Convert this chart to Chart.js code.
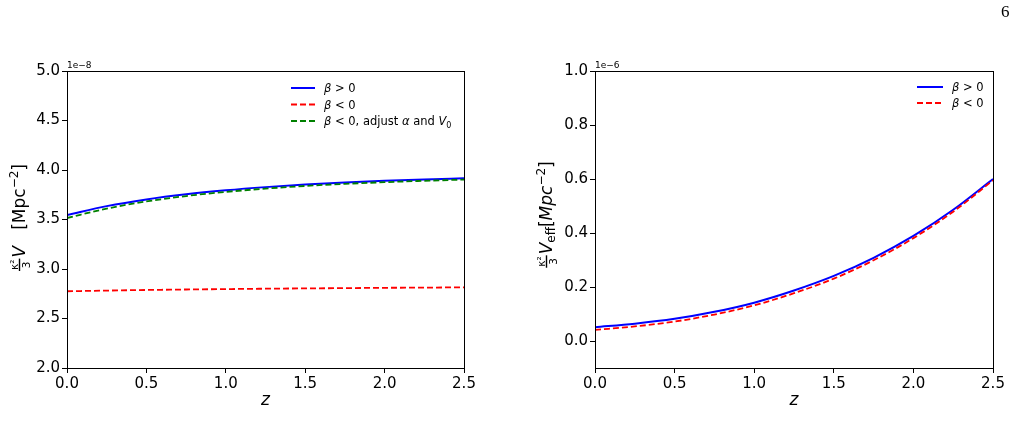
<!DOCTYPE html>
<html>
<head>
<meta charset="utf-8">
<script src="https://cdn.jsdelivr.net/npm/chart.js@4.4.1/dist/chart.umd.min.js"></script>
<style>
body { margin: 0; background: #fff; width: 1020px; height: 446px; overflow: hidden; position: relative; }
canvas { position: absolute; top: 0; }
#pg { position: absolute; left: 1001px; top: 2px; font: 17px 'Liberation Serif'; color: #000; }
</style>
</head>
<body>
<canvas id="left" width="510" height="446" style="left:0"></canvas>
<canvas id="right" width="510" height="446" style="left:510px"></canvas>
<div id="pg">6</div>
<script>
// redshift samples
const zVals = [0, 0.25, 0.5, 0.75, 1.0, 1.25, 1.5, 1.75, 2.0, 2.25, 2.5]

// left panel, units of 1e-8
const vPos = [3.545, 3.635, 3.703, 3.755, 3.795, 3.827, 3.853, 3.874, 3.891, 3.905, 3.916]
const vNeg = [2.775, 2.782, 2.788, 2.793, 2.797, 2.801, 2.804, 2.807, 2.810, 2.812, 2.815]
const vAdj = [3.515, 3.61, 3.682, 3.737, 3.779, 3.812, 3.839, 3.86, 3.877, 3.891, 3.903]

// right panel, units of 1e-6
const veffPos = [0.051, 0.064, 0.082, 0.108, 0.142, 0.187, 0.241, 0.308, 0.389, 0.486, 0.600]
const veffNeg = [0.041, 0.054, 0.072, 0.098, 0.132, 0.177, 0.231, 0.299, 0.381, 0.479, 0.595]

const zTicks = [0, 0.5, 1.0, 1.5, 2.0, 2.5]
const leftTicks = [2.0, 2.5, 3.0, 3.5, 4.0, 4.5, 5.0]
const rightTicks = [0, 0.2, 0.4, 0.6, 0.8, 1.0]

const leftLabels = ['β > 0', 'β < 0', 'β < 0, adjust α and V₀']
const rightLabels = ['β > 0', 'β < 0']

const FONT = 'DejaVu Sans'
Chart.defaults.font.family = FONT
Chart.defaults.color = '#000'

function pts(ys) {
    return zVals.map((z, i) => ({x: z, y: ys[i]}))
}

function mathPieces(str, size) {
    const out = []
    str.split(/(β|α|V₀)/).forEach((s) => {
        if (!s) return
        if (s === 'β' || s === 'α') {
            out.push({t: s, font: `italic ${size}px ${FONT}`})
        } else if (s === 'V₀') {
            out.push({t: 'V', font: `italic ${size}px ${FONT}`})
            out.push({t: '0', font: `${Math.round(size * 0.7)}px ${FONT}`, dy: size * 0.25})
        } else {
            out.push({t: s, font: `${size}px ${FONT}`})
        }
    })
    return out
}

function pieceWidth(ctx, p) {
    ctx.font = p.font
    if (p.frac) {
        return Math.max(ctx.measureText(p.frac[0]).width, ctx.measureText(p.frac[1]).width) + 2
    }
    return ctx.measureText(p.t).width
}

function drawRich(ctx, pieces, x, y, align) {
    let w = 0
    pieces.forEach(p => w += pieceWidth(ctx, p))
    let cx = align === 'center' ? x - w / 2 : x
    ctx.textBaseline = 'alphabetic'
    ctx.textAlign = 'left'
    ctx.fillStyle = '#000'
    pieces.forEach((p) => {
        const pw = pieceWidth(ctx, p)
        ctx.font = p.font
        if (p.frac) {
            const n = ctx.measureText(p.frac[0]).width
            const d = ctx.measureText(p.frac[1]).width
            ctx.fillText(p.frac[0], cx + (pw - n) / 2, y - 7.5)
            ctx.fillText(p.frac[1], cx + (pw - d) / 2, y + 4.5)
            ctx.fillRect(cx, y - 6.2, pw, 1.4)
        } else {
            ctx.fillText(p.t, cx, y + (p.dy || 0))
        }
        cx += pw + (p.gap || 0)
    })
}

const decor = {
    id: 'decor',
    afterDatasetsDraw(chart, args, opts) {
        const ctx = chart.ctx
        const a = chart.chartArea
        ctx.save()
        // frame
        ctx.strokeStyle = '#000'
        ctx.lineWidth = 1
        ctx.setLineDash([])
        ctx.strokeRect(Math.round(a.left) + 0.5, Math.round(a.top) + 0.5, Math.round(a.right - a.left), Math.round(a.bottom - a.top))
        // offset text
        ctx.font = `9px ${FONT}`
        ctx.fillStyle = '#000'
        ctx.textAlign = 'left'
        ctx.textBaseline = 'alphabetic'
        ctx.fillText(opts.offsetText, a.left, a.top - 3)
        // y label, rotated
        ctx.save()
        ctx.translate(opts.yLabelX, opts.yLabelY)
        ctx.rotate(-Math.PI / 2)
        drawRich(ctx, opts.yLabel, 0, 0, 'center')
        ctx.restore()
        // legend
        const lg = opts.legend
        chart.data.datasets.forEach((ds, i) => {
            const y = lg.y0 + i * lg.dy
            ctx.strokeStyle = ds.borderColor
            ctx.lineWidth = ds.borderWidth
            ctx.setLineDash(ds.borderDash || [])
            ctx.beginPath()
            ctx.moveTo(lg.x1, y)
            ctx.lineTo(lg.x2, y)
            ctx.stroke()
            ctx.setLineDash([])
            drawRich(ctx, mathPieces(ds.label, 11.5), lg.tx, y + 4, 'left')
        })
        ctx.restore()
    }
}

function axes(yMin, yMax, yTicks, yWidth) {
    return {
        x: {
            type: 'linear', min: 0, max: 2.5,
            afterBuildTicks: s => { s.ticks = zTicks.map(v => ({value: v})) },
            afterFit: s => { s.height = 43.2 },
            ticks: {font: {size: 15}, color: '#000', padding: 2, maxRotation: 0, callback: v => v.toFixed(1)},
            grid: {drawOnChartArea: false, tickLength: 5, color: '#000'},
            border: {color: '#000', width: 1},
            title: {display: true, text: 'z', font: {size: 17, style: 'italic'}, color: '#000', padding: 0}
        },
        y: {
            type: 'linear', min: yMin, max: yMax,
            afterBuildTicks: s => { s.ticks = yTicks.map(v => ({value: v})) },
            afterFit: s => { s.width = yWidth },
            ticks: {font: {size: 15}, color: '#000', padding: 2, callback: v => v.toFixed(1)},
            grid: {drawOnChartArea: false, tickLength: 5, color: '#000'},
            border: {color: '#000', width: 1}
        }
    }
}

function line(label, ys, color, dashed, order) {
    return {
        label: label,
        data: pts(ys),
        borderColor: color,
        backgroundColor: color,
        borderWidth: dashed ? 1.8 : 2,
        borderDash: dashed ? [6, 3] : [],
        pointRadius: 0,
        cubicInterpolationMode: 'monotone',
        fill: false,
        order: order
    }
}

new Chart(document.getElementById('left'), {
    type: 'line',
    data: {
        datasets: [
            line(leftLabels[0], vPos, '#0000ff', false, 3),
            line(leftLabels[1], vNeg, '#ff0000', true, 2),
            line(leftLabels[2], vAdj, '#008000', true, 1)
        ]
    },
    options: {
        responsive: false,
        animation: false,
        devicePixelRatio: 1,
        layout: {padding: {top: 71, right: 46, bottom: 34.8, left: 0}},
        scales: axes(2.0, 5.0, leftTicks, 67),
        plugins: {
            legend: {display: false},
            tooltip: {enabled: false},
            decor: {
                offsetText: '1e−8',
                yLabelX: 25, yLabelY: 218,
                yLabel: [
                    {frac: ['κ²', '3'], font: `10.5px ${FONT}`, gap: 1},
                    {t: 'V', font: `italic 17px ${FONT}`},
                    {t: '   [Mpc', font: `17px ${FONT}`},
                    {t: '−2', font: `12px ${FONT}`, dy: -7},
                    {t: ']', font: `17px ${FONT}`}
                ],
                legend: {x1: 291, x2: 315, tx: 324, y0: 88, dy: 16.5}
            }
        }
    },
    plugins: [decor]
})

new Chart(document.getElementById('right'), {
    type: 'line',
    data: {
        datasets: [
            line(rightLabels[0], veffPos, '#0000ff', false, 2),
            line(rightLabels[1], veffNeg, '#ff0000', true, 1)
        ]
    },
    options: {
        responsive: false,
        animation: false,
        devicePixelRatio: 1,
        layout: {padding: {top: 71, right: 27, bottom: 34.8, left: 0}},
        scales: axes(-0.1, 1.0, rightTicks, 85),
        plugins: {
            legend: {display: false},
            tooltip: {enabled: false},
            decor: {
                offsetText: '1e−6',
                yLabelX: 42, yLabelY: 215,
                yLabel: [
                    {frac: ['κ²', '3'], font: `10.5px ${FONT}`, gap: 1},
                    {t: 'V', font: `italic 17px ${FONT}`},
                    {t: 'eff', font: `12px ${FONT}`, dy: 3},
                    {t: '[', font: `17px ${FONT}`},
                    {t: 'Mpc', font: `italic 17px ${FONT}`},
                    {t: '−2', font: `12px ${FONT}`, dy: -7},
                    {t: ']', font: `17px ${FONT}`}
                ],
                legend: {x1: 407, x2: 433, tx: 442, y0: 87, dy: 16}
            }
        }
    },
    plugins: [decor]
})
</script>
</body>
</html>
